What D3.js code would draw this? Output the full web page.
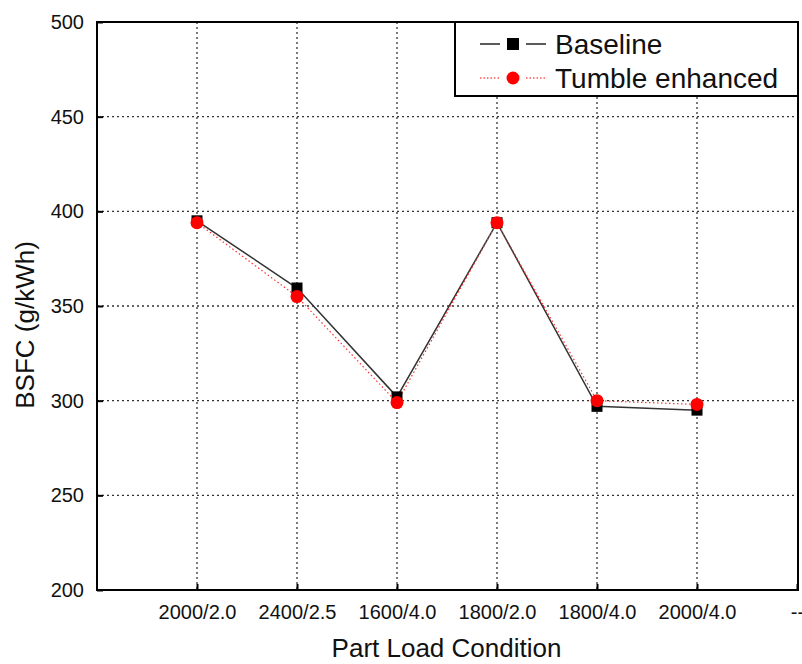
<!DOCTYPE html>
<html>
<head>
<meta charset="utf-8">
<script src="https://cdn.jsdelivr.net/npm/d3@7"></script>
<style>
  body { margin: 0; background: #fff; }
  text { font-family: "Liberation Sans", Arial, sans-serif; }
</style>
</head>
<body>
<script>
// part load conditions (rpm / bar)
const categories = ['2000/2.0', '2400/2.5', '1600/4.0', '1800/2.0', '1800/4.0', '2000/4.0'];
const baseline = [395, 359.5, 302, 394, 297, 295];
const tumble = [394, 355, 299, 394, 300, 298];
const yTicks = [200, 250, 300, 350, 400, 450, 500];

const width = 802;
const height = 664;
const margin = { top: 22, right: 4, bottom: 74, left: 97 };

const svg = d3.select('body').append('svg')
    .attr('width', width)
    .attr('height', height);

const x = d3.scalePoint()
    .domain([' '].concat(categories, ['--']))
    .range([margin.left, width - margin.right - 1]);

const y = d3.scaleLinear()
    .domain([200, 500])
    .range([height - margin.bottom, margin.top]);

const x0 = margin.left, x1 = width - margin.right;
const y0 = height - margin.bottom, y1 = margin.top;

// grid
const grid = svg.append('g')
    .attr('stroke', '#333')
    .attr('stroke-width', 1.3)
    .attr('stroke-dasharray', '2,3');

grid.selectAll('.hg')
    .data(yTicks.filter(d => d > 200 && d < 500))
  .enter().append('line')
    .attr('x1', x0).attr('x2', x1)
    .attr('y1', d => y(d)).attr('y2', d => y(d));

grid.selectAll('.vg')
    .data(categories)
  .enter().append('line')
    .attr('x1', d => x(d)).attr('x2', d => x(d))
    .attr('y1', y1).attr('y2', y0);

// axes (ticks inward)
const yAxis = svg.append('g')
    .attr('transform', 'translate(' + x0 + ',0)')
    .call(d3.axisLeft(y).tickValues(yTicks).tickSizeInner(-6).tickSizeOuter(0).tickPadding(13));

const xAxis = svg.append('g')
    .attr('transform', 'translate(0,' + y0 + ')')
    .call(d3.axisBottom(x).tickValues(categories.concat(['--'])).tickSizeInner(-6).tickSizeOuter(0).tickPadding(15));

[yAxis, xAxis].forEach(a => {
  a.select('.domain').remove();
  a.selectAll('line').attr('stroke', '#000').attr('stroke-width', 2);
  a.selectAll('text').attr('fill', '#111');
});
yAxis.selectAll('text').style('font-size', '20px');
xAxis.selectAll('text').style('font-size', '20px');

// frame
svg.append('rect')
    .attr('x', x0).attr('y', y1)
    .attr('width', x1 - x0).attr('height', y0 - y1)
    .attr('fill', 'none')
    .attr('stroke', '#000')
    .attr('stroke-width', 2);

// lines
const line = d3.line()
    .x((d, i) => x(categories[i]))
    .y(d => y(d));

svg.append('path')
    .datum(baseline)
    .attr('d', line)
    .attr('fill', 'none')
    .attr('stroke', '#333')
    .attr('stroke-width', 1.5);

svg.append('path')
    .datum(tumble)
    .attr('d', line)
    .attr('fill', 'none')
    .attr('stroke', '#f33')
    .attr('stroke-width', 1.2)
    .attr('stroke-dasharray', '1.5,2.5');

svg.selectAll('.sq')
    .data(baseline)
  .enter().append('rect')
    .attr('x', (d, i) => x(categories[i]) - 5.5)
    .attr('y', d => y(d) - 5.5)
    .attr('width', 11).attr('height', 11)
    .attr('fill', '#000');

svg.selectAll('.ci')
    .data(tumble)
  .enter().append('circle')
    .attr('cx', (d, i) => x(categories[i]))
    .attr('cy', d => y(d))
    .attr('r', 6.5)
    .attr('fill', '#f00');

// axis titles
svg.append('text')
    .attr('x', (x0 + x1) / 2 - 1)
    .attr('y', 657)
    .attr('text-anchor', 'middle')
    .style('font-size', '26px')
    .attr('fill', '#111')
    .text('Part Load Condition');

svg.append('text')
    .attr('transform', 'translate(34,' + 325 + ') rotate(-90)')
    .attr('text-anchor', 'middle')
    .style('font-size', '26px')
    .attr('fill', '#111')
    .text('BSFC (g/kWh)');

// legend
const lg = svg.append('g');
lg.append('rect')
    .attr('x', 455).attr('y', y1)
    .attr('width', x1 - 455).attr('height', 74)
    .attr('fill', '#fff')
    .attr('stroke', '#000')
    .attr('stroke-width', 2);

const items = [
  { name: 'Baseline', color: '#000', dash: null, shape: 'square', cy: 44 },
  { name: 'Tumble enhanced', color: '#f00', dash: '1.5,2', shape: 'circle', cy: 78 }
];
items.forEach(it => {
  [[480, 500], [526, 546]].forEach(seg => {
    lg.append('line')
      .attr('x1', seg[0]).attr('x2', seg[1])
      .attr('y1', it.cy).attr('y2', it.cy)
      .attr('stroke', it.color)
      .attr('stroke-width', it.dash ? 1 : 1.3)
      .attr('stroke-dasharray', it.dash);
  });
  if (it.shape === 'square') {
    lg.append('rect')
      .attr('x', 507).attr('y', it.cy - 6)
      .attr('width', 12).attr('height', 12)
      .attr('fill', it.color);
  } else {
    lg.append('circle')
      .attr('cx', 513).attr('cy', it.cy).attr('r', 6.5)
      .attr('fill', it.color);
  }
  lg.append('text')
    .attr('x', 555).attr('y', it.cy)
    .attr('dy', '0.36em')
    .style('font-size', '28px')
    .attr('fill', '#111')
    .text(it.name);
});
</script>
</body>
</html>
